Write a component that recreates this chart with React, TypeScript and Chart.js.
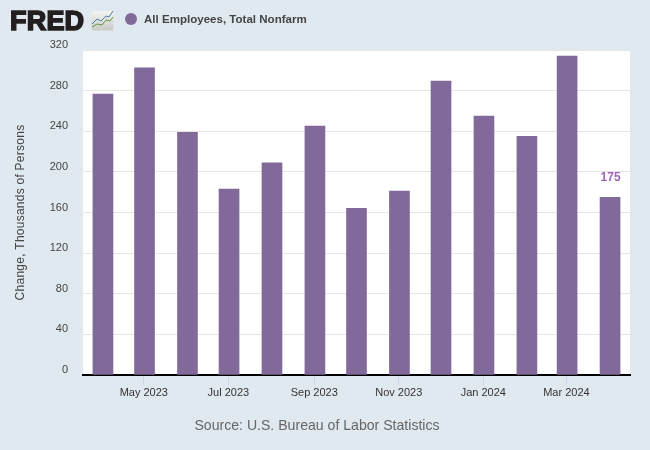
import React, { useEffect, useRef } from "react";
import { Chart, registerables } from "chart.js";

Chart.register(...registerables);

const months = ["2023-04-01","2023-05-01","2023-06-01","2023-07-01","2023-08-01","2023-09-01","2023-10-01","2023-11-01","2023-12-01","2024-01-01","2024-02-01","2024-03-01","2024-04-01"];
const values = [276.5,302.5,239,183,209,245,164,181,289.5,255,235,314,175];
const tickDates = ["2023-05-01","2023-07-01","2023-09-01","2023-11-01","2024-01-01","2024-03-01"];
const tickLabels = ["May 2023","Jul 2023","Sep 2023","Nov 2023","Jan 2024","Mar 2024"];
const seriesName = "All Employees, Total Nonfarm";
const yTitle = "Change, Thousands of Persons";
const source = "Source: U.S. Bureau of Labor Statistics";
const lastLabel = "175";

const DAY = 86400000;
const origin = Date.UTC(2023, 3, 1);
const toDay = (s: string) => (Date.parse(s + "T00:00:00Z") - origin) / DAY;

const BG = "#e1e9f0";
const BAR = "#816a9a";
const FONT = '"Liberation Sans", Arial, sans-serif';

const chromePlugin = {
  id: "chrome",
  beforeDraw(chart: any) {
    const { ctx, chartArea: a } = chart;
    ctx.save();
    ctx.fillStyle = "#ffffff";
    ctx.fillRect(a.left, a.top, a.right - a.left, a.bottom - a.top);
    ctx.restore();
  },
  afterDraw(chart: any) {
    const { ctx, chartArea: a } = chart;
    ctx.save();
    ctx.translate(20, (a.top + a.bottom) / 2);
    ctx.rotate(-Math.PI / 2);
    ctx.fillStyle = "#444444";
    ctx.font = `12px ${FONT}`;
    (ctx as any).letterSpacing = "0.25px";
    ctx.textAlign = "center";
    ctx.textBaseline = "alphabetic";
    ctx.fillText(yTitle, 0, 4);
    ctx.restore();
  },
  afterDatasetsDraw(chart: any) {
    const { ctx } = chart;
    const meta = chart.getDatasetMeta(0);
    const bar = meta.data[meta.data.length - 1];
    ctx.save();
    ctx.fillStyle = "#a062bd";
    ctx.font = `bold 12px ${FONT}`;
    ctx.textAlign = "center";
    ctx.textBaseline = "middle";
    ctx.fillText(lastLabel, bar.x + 0.5, bar.y - 20);
    ctx.restore();
  },
};

export default function App() {
  const ref = useRef<HTMLCanvasElement>(null);
  useEffect(() => {
    const chart = new Chart(ref.current as HTMLCanvasElement, {
      type: "bar",
      data: {
        datasets: [
          {
            label: seriesName,
            data: months.map((m, i) => ({ x: toDay(m), y: values[i] })),
            backgroundColor: BAR,
            barThickness: 20,
          },
        ],
      },
      options: {
        animation: false,
        responsive: false,
        layout: { padding: { top: 50, left: 14, right: 20, bottom: 0 } },
        plugins: { legend: { display: false }, tooltip: { enabled: false } },
        scales: {
          x: {
            type: "linear",
            offset: false,
            min: -14.4,
            max: 380.4,
            afterFit(s: any) { s.height = 75; },
            afterBuildTicks(s: any) { s.ticks = tickDates.map((d) => ({ value: toDay(d) - 0.5 })); },
            grid: { drawOnChartArea: false, drawTicks: true, tickColor: "#ccd6eb", tickLength: 10, tickWidth: 1, offset: false },
            border: { color: "#000000", width: 2 },
            ticks: {
              autoSkip: false,
              maxRotation: 0,
              padding: 1,
              color: "#333333",
              font: { family: FONT, size: 11, weight: "normal" },
              callback(_v: any, i: number) { return tickLabels[i]; },
            },
          },
          y: {
            min: 0,
            max: 320,
            afterFit(s: any) { s.width = 69; },
            grid: { color: "#e6e6e6", drawTicks: false },
            border: { display: false },
            ticks: {
              stepSize: 40,
              padding: 15,
              labelOffset: -5,
              color: "#444444",
              font: { family: FONT, size: 11 },
            },
          },
        },
      } as any,
      plugins: [chromePlugin],
    });
    return () => chart.destroy();
  }, []);

  return (
    <div style={{ position: "absolute", left: 0, top: 0, width: 650, height: 450, background: BG, overflow: "hidden" }}>
      <canvas ref={ref} width={650} height={450} style={{ position: "absolute", left: 0, top: 0 }} />
      <div style={{ position: "absolute", left: 10, top: 6, fontFamily: FONT, fontWeight: 700, fontSize: 27, lineHeight: "30px", color: "#231f20", WebkitTextStroke: "1.6px #231f20", letterSpacing: 0.2 }}>FRED</div>
      <svg width={23} height={21} style={{ position: "absolute", left: 91, top: 10 }}>
        <defs>
          <linearGradient id="logoBg" x1="0" y1="0" x2="0" y2="1">
            <stop offset="0" stopColor="#f4f4f2" />
            <stop offset="1" stopColor="#c9c9c5" />
          </linearGradient>
        </defs>
        <rect x={0.5} y={1} width={22} height={19.5} rx={2} fill="url(#logoBg)" />
        <polyline points="1,14 6,9 10,11 15,6 18,7 22,1" fill="none" stroke="#4f7fa8" strokeWidth={1} />
        <polyline points="1,17 6,14 11,15 15,10 19,11 22,7" fill="none" stroke="#5f9a3a" strokeWidth={1} />
      </svg>
      <div style={{ position: "absolute", left: 125, top: 13, width: 12, height: 12, borderRadius: 6, background: BAR }} />
      <div style={{ position: "absolute", left: 144, top: 12, fontFamily: FONT, fontWeight: 700, fontSize: 11.55, lineHeight: "15px", color: "#444444", whiteSpace: "nowrap" }}>{seriesName}</div>
      <div style={{ position: "absolute", left: 0, width: 634, top: 416, textAlign: "center", fontFamily: FONT, fontSize: 14.1, lineHeight: "18px", color: "#666666", whiteSpace: "nowrap" }}>{source}</div>
    </div>
  );
}
